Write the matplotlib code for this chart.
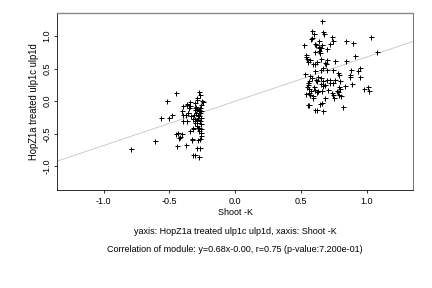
import matplotlib
matplotlib.use("Agg")
import matplotlib.pyplot as plt

plt.rcParams['font.family'] = ['Liberation Sans', 'DejaVu Sans']
plt.rcParams['axes.unicode_minus'] = False

left_x = [-0.795, -0.610, -0.562, -0.516, -0.501, -0.481, -0.453, -0.446, -0.448, -0.435,
          -0.425, -0.418, -0.408, -0.408, -0.400, -0.395, -0.400, -0.377, -0.370, -0.365,
          -0.357, -0.354, -0.344, -0.342, -0.339, -0.332, -0.327, -0.324, -0.319, -0.316,
          -0.309, -0.304, -0.304, -0.299, -0.294, -0.289, -0.286, -0.278, -0.273, -0.319,
          -0.309, -0.273, -0.268, -0.268, -0.271, -0.281, -0.268, -0.261, -0.258, -0.278,
          -0.268, -0.289, -0.299, -0.294, -0.258, -0.253, -0.248, -0.304, -0.294, -0.284,
          -0.276, -0.309, -0.304, -0.278, -0.268, -0.263, -0.258, -0.284, -0.294, -0.258,
          -0.258, -0.284, -0.273, -0.291, -0.319, -0.344, -0.370, -0.362, -0.375]
left_y = [-0.738, -0.615, -0.262, 0.000, -0.262, -0.215, 0.123, -0.692, -0.503, -0.487,
          -0.564, -0.549, -0.503, -0.154, -0.067, -0.205, -0.308, -0.677, -0.062, -0.041,
          -0.179, -0.108, -0.010, -0.077, -0.231, -0.590, -0.574, -0.421, -0.410, -0.215,
          -0.128, -0.103, -0.026, -0.179, -0.333, -0.718, -0.590, -0.462, -0.410, -0.831,
          -0.831, -0.862, -0.579, -0.718, -0.308, -0.231, -0.103, -0.051, -0.426, 0.144,
          0.092, 0.051, -0.092, -0.113, -0.154, 0.010, -0.010, -0.267, -0.282, -0.256,
          -0.231, -0.308, -0.338, -0.154, -0.179, -0.256, -0.349, -0.410, -0.385, -0.487,
          -0.538, -0.205, -0.138, 0.015, -0.267, -0.451, -0.308, -0.179, -0.215]

right_x = [0.661, 0.585, 0.600, 0.582, 0.577, 0.663, 0.673, 0.603, 0.613, 0.633,
           0.638, 0.643, 0.648, 0.656, 0.522, 0.537, 0.539, 0.544, 0.549, 0.567,
           0.592, 0.608, 0.618, 0.648, 0.608, 0.638, 0.643, 0.694, 0.719, 0.737,
           0.744, 0.843, 0.896, 0.909, 0.841, 1.030, 1.073, 0.744, 0.780, 0.790,
           0.876, 0.934, 0.947, 0.871, 0.947, 0.699, 0.668, 0.651, 0.681, 0.689,
           0.605, 0.529, 0.567, 0.585, 0.630, 0.648, 0.613, 0.663, 0.694, 0.719,
           0.754, 0.795, 0.681, 0.651, 0.623, 0.562, 0.554, 0.549, 0.542, 0.559,
           0.572, 0.537, 0.557, 0.567, 0.600, 0.605, 0.592, 0.587, 0.620, 0.630,
           0.656, 0.663, 0.706, 0.734, 0.752, 0.770, 0.780, 0.785, 0.795, 0.790,
           0.805, 0.833, 0.871, 0.884, 0.980, 1.005, 1.015, 0.554, 0.562, 0.603,
           0.623, 0.643, 0.656, 0.668, 0.820, 0.744, 0.681, 0.719, 0.744, 0.757,
           0.638, 0.694]
right_y = [1.231, 1.077, 1.026, 0.964, 0.949, 1.062, 1.026, 0.882, 0.862, 0.831,
           0.821, 0.810, 0.821, 0.856, 0.867, 0.703, 0.677, 0.656, 0.605, 0.631,
           0.574, 0.579, 0.605, 0.641, 0.759, 0.769, 0.744, 0.795, 0.882, 0.985,
           0.923, 0.923, 0.887, 0.692, 0.615, 0.990, 0.754, 0.487, 0.436, 0.410,
           0.487, 0.462, 0.513, 0.400, 0.369, 0.487, 0.513, 0.487, 0.590, 0.564,
           0.462, 0.421, 0.385, 0.349, 0.369, 0.349, 0.323, 0.318, 0.333, 0.333,
           0.323, 0.308, 0.256, 0.267, 0.308, 0.318, 0.282, 0.246, 0.215, 0.195,
           0.154, 0.113, 0.123, 0.103, 0.215, 0.179, 0.077, 0.051, 0.144, 0.164,
           0.164, 0.231, 0.179, 0.128, 0.051, 0.164, 0.144, 0.215, 0.195, 0.103,
           0.077, 0.231, 0.369, 0.267, 0.195, 0.215, 0.154, -0.051, -0.062, -0.133,
           -0.138, -0.041, -0.026, -0.154, -0.092, 0.103, 0.051, 0.282, 0.282, 0.615,
           0.923, 0.626]

slope = 0.68
intercept = 0.0
xticks = [-1.0, -0.5, 0.0, 0.5, 1.0]
yticks = [-1.0, -0.5, 0.0, 0.5, 1.0]
xlabel = "Shoot -K"
ylabel = "HopZ1a treated ulp1c ulp1d"
line1 = "yaxis: HopZ1a treated ulp1c ulp1d, xaxis: Shoot -K"
line2 = "Correlation of module: y=0.68x-0.00, r=0.75 (p-value:7.200e-01)"

fig = plt.figure(figsize=(6, 4), dpi=72)
ax = fig.add_axes([0.1327, 0.340, 0.824, 0.616])

ax.axline((0, intercept), slope=slope, color='#c8c8c8', lw=0.9, zorder=1)
ax.plot(left_x + right_x, left_y + right_y, linestyle='none', marker='+',
        color='black', markersize=5, markeredgewidth=1.0, zorder=2)

ax.set_xlim(-1.352, 1.352)
ax.set_ylim(-1.365, 1.36)
ax.set_xticks(xticks)
ax.set_yticks(yticks)
ax.set_xticklabels([f"{v:.1f}" for v in xticks])
ax.set_yticklabels([f"{v:.1f}" for v in yticks], rotation=90, va='center')
ax.tick_params(axis='both', length=3, width=0.8, labelsize=9, pad=4, color='black')
ax.tick_params(axis='y', pad=3)

for s in ['left', 'bottom', 'right']:
    ax.spines[s].set_color('black')
    ax.spines[s].set_linewidth(0.8)
ax.spines['right'].set_color('#555555')
ax.spines['top'].set_color('#888888')
ax.spines['top'].set_linewidth(1.4)

ax.set_xlabel(xlabel, fontsize=9, labelpad=2)
ax.set_ylabel(ylabel, fontsize=9.5, labelpad=3)

fig.text(0.5447, 1 - 231 / 288, line1, ha='center', va='center', fontsize=9)
fig.text(0.5447, 1 - 249.5 / 288, line2, ha='center', va='center', fontsize=9)

fig.savefig("out.png", dpi=72)
